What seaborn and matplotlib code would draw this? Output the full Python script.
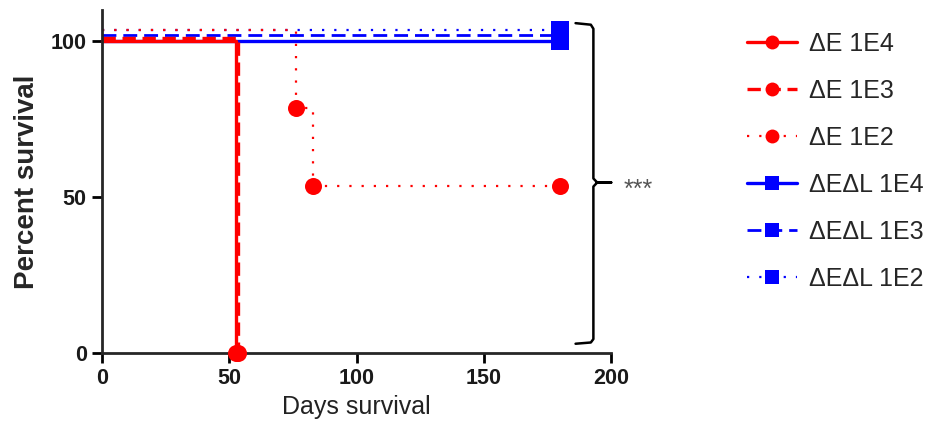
import matplotlib
matplotlib.use("Agg")
import matplotlib.pyplot as plt
from matplotlib.lines import Line2D
import pandas as pd
import seaborn as sns

# step curves (GraphPad offsets the overlapping curves a little)
e_1e4_days = [0, 52.5]
e_1e4_pct = [100, 0]
e_1e3_days = [0, 53.5]
e_1e3_pct = [101, 0]
e_1e2_days = [0, 76, 83, 180]
e_1e2_pct = [103.5, 78.5, 53.7, 53.7]
el_1e4_days = [0, 180]
el_1e4_pct = [100, 100]
el_1e3_days = [0, 180]
el_1e3_pct = [102, 102]
el_1e2_days = [0, 180]
el_1e2_pct = [103.5, 103.5]

labels = ["\u0394E 1E4", "\u0394E 1E3", "\u0394E 1E2",
          "\u0394E\u0394L 1E4", "\u0394E\u0394L 1E3", "\u0394E\u0394L 1E2"]

RED = "#ff0000"
BLUE = "#0000ff"

series = [
    (labels[0], e_1e4_days, e_1e4_pct, RED, "-", 2.4, "o"),
    (labels[1], e_1e3_days, e_1e3_pct, RED, (0, (4, 2)), 2.4, "o"),
    (labels[2], e_1e2_days, e_1e2_pct, RED, (0, (1, 4.5)), 1.6, "o"),
    (labels[3], el_1e4_days, el_1e4_pct, BLUE, "-", 2.4, "s"),
    (labels[4], el_1e3_days, el_1e3_pct, BLUE, (0, (5, 2.5)), 2.0, "s"),
    (labels[5], el_1e2_days, el_1e2_pct, BLUE, (0, (1, 4.5)), 1.6, "s"),
]

sns.set_style("ticks")
plt.rcParams["font.family"] = ["Liberation Sans", "DejaVu Sans"]

fig = plt.figure(figsize=(9.36, 4.37), dpi=100)
ax = fig.add_axes([0.109, 0.192, 0.544, 0.785])

handles = []
# draw the 1E2 curves first so the solid ones sit on top
for name, days, pct, color, ls, lw, mk in reversed(series):
    df = pd.DataFrame({"day": days, "pct": pct})
    sns.lineplot(data=df, x="day", y="pct", ax=ax, color=color, linestyle=ls,
                 linewidth=lw, drawstyle="steps-post", clip_on=False,
                 estimator=None, sort=False)
    # markers on every event point, skipping the start
    sns.scatterplot(data=df.iloc[1:], x="day", y="pct", ax=ax, color=color,
                    marker=mk, s=150, linewidth=0, clip_on=False, zorder=5)
for name, days, pct, color, ls, lw, mk in series:
    handles.append(Line2D([], [], color=color, linestyle=ls, linewidth=lw,
                          marker=mk, markersize=10, markeredgewidth=0,
                          label=name))

ax.set_xlim(0, 200)
ax.set_ylim(0, 110)
ax.set_xticks([0, 50, 100, 150, 200])
ax.set_yticks([0, 50, 100])
for side in ["left", "bottom"]:
    ax.spines[side].set_linewidth(2)
sns.despine(ax=ax)
ax.tick_params(axis="both", width=2, length=7, labelsize=15.5, color="black",
               labelcolor="#1a1a1a", pad=4)
for t in ax.get_xticklabels() + ax.get_yticklabels():
    t.set_fontweight("bold")
ax.set_xlabel("Days survival", fontsize=18, color="#222222", labelpad=4)
ax.set_ylabel("Percent survival", fontsize=20, fontweight="bold",
              labelpad=8)

# curly brace with significance stars
brace_x = [186, 192, 193, 193, 194.5, 200, 194.5, 193, 193, 192, 186]
brace_y = [105.8, 105.3, 104, 56, 54.7, 54.7, 54.7, 53.4, 4.5, 3.4, 3.0]
ax.plot(brace_x, brace_y, color="black", linewidth=1.8, clip_on=False)
ax.text(205, 52.5, "***", fontsize=18, color="#555555", va="center",
        ha="left")

fig.legend(handles=handles, loc="upper left", bbox_to_anchor=(0.774, 0.978),
           frameon=False, fontsize=18, handlelength=2.0, handletextpad=0.5,
           labelspacing=0.92)

fig.savefig("out.png", dpi=100)
